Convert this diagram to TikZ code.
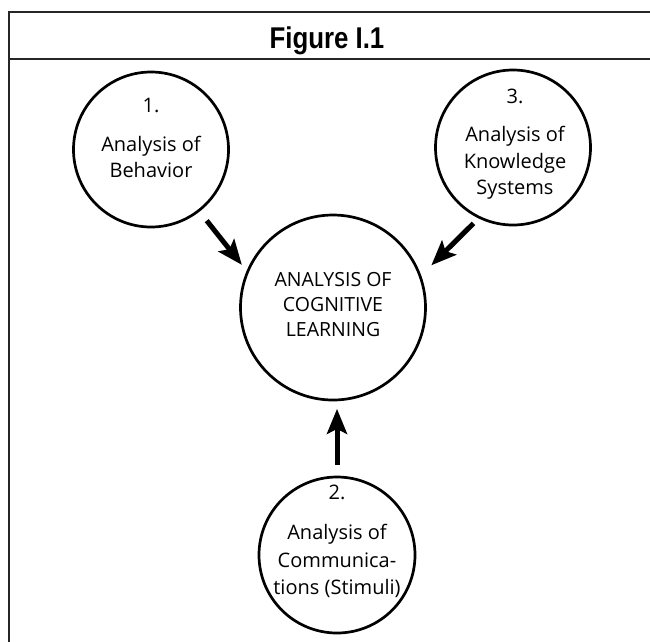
\documentclass[tikz,border=0pt]{standalone}
\usepackage{fontspec}
\setmainfont{Open Sans}
\newfontfamily\titlefont[FakeStretch=0.86]{Liberation Sans}
\usetikzlibrary{positioning,arrows.meta}

\begin{document}
\begin{tikzpicture}[x=1pt, y=-1pt,
    font=\fontsize{20}{26.5}\selectfont,
    circ/.style={draw, circle, line width=2.7pt, minimum size=155pt, inner sep=0pt},
    txt/.style={align=center, inner sep=0pt, text=black},
    fl/.style={-{Stealth[length=25pt, width=20pt, inset=5pt]}, line width=5pt},
    frm/.style={draw, line width=2.5pt, black!85},
]
    \useasboundingbox (0,0) rectangle (650,641);
    \clip (0,0) rectangle (650,641);
    \draw[frm] (9,12) rectangle (700,700);
    \draw[frm] (9,59) -- (700,59);
    \node[anchor=base, inner sep=0pt, font=\titlefont\bfseries\fontsize{30}{30}\selectfont] (t) at (327,48) {Figure I.1};

    \node[circ] (c1) at (151,149.5) {};
    \node[circ] (c3) at (513,147.5) {};
    \node[circ, minimum size=185pt] (c0) at (333,307.5) {};
    \node[circ, minimum size=156pt] (c2) at (337,555) {};

    \node[txt] (l1) at (151,138.4) {1.\\[12pt]Analysis of\\Behavior};
    \node[txt] (l3) at (515,144.2) {3.\\[12pt]Analysis of\\Knowledge\\Systems};
    \node[txt, font=\fontsize{19.5}{25}\selectfont] (l0) at (333,304.9) {ANALYSIS OF\\COGNITIVE\\LEARNING};
    \node[txt] (l2) at (337,540.9) {2.\\[13.5pt]Analysis of\\[2pt]Communica-\\tions (Stimuli)};

    \draw[fl, shorten <=11.5pt, shorten >=7.6pt] (c1.-52) -- (c0.157);
    \draw[fl, shorten <=7pt, shorten >=14.3pt] (c3.244) -- (c0.20);
    \draw[fl, shorten <=11pt, shorten >=7.5pt] (c2.north) -- (c2.north |- c0.south);
\end{tikzpicture}
\end{document}
